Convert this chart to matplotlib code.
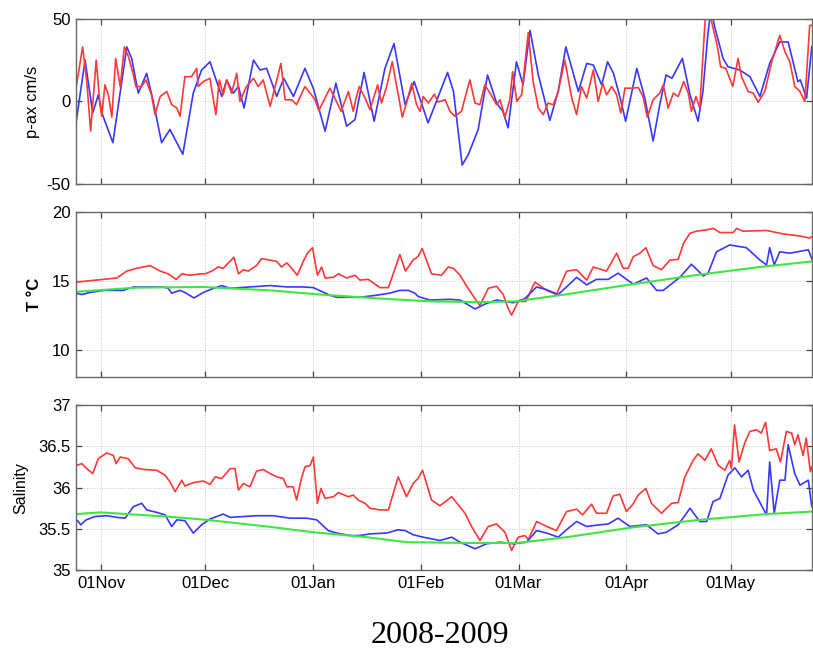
import datetime
import numpy as np
import matplotlib
matplotlib.use('Agg')
import matplotlib.pyplot as plt
import matplotlib.dates as mdates

# time axis: days after 01 Nov 2008
t0 = datetime.datetime(2008, 11, 1)

# along-axis velocity (cm/s)
vel_b_day = [-7.2, -4.6, -2.4, -0.8, 0.4, 3.4, 7.4, 8.8, 10.7, 13.1, 15.0, 17.4, 19.8, 23.5,
             26.5, 28.9, 31.3, 34.7, 36.1, 38.0, 39.5, 41.1, 43.8, 45.7, 47.6, 50.5, 52.5, 55.3,
             58.6, 61.0, 64.4, 67.5, 70.6, 73.0, 75.6, 78.5, 81.6, 84.2, 87.4, 90.0, 94.0, 99.6,
             101.3, 103.8, 105.6, 108.4, 111.1, 113.7, 115.5, 117.0, 119.4, 121.3, 123.3, 125.7,
             129.0, 131.4, 133.6, 137.2, 139.6, 141.5, 143.9, 145.6, 147.3, 149.1, 150.8, 154.0,
             156.3, 158.7, 160.6, 162.4, 164.1, 167.1, 169.3, 171.6, 173.0, 174.4, 175.3, 176.4,
             178.8, 180.2, 183.6, 186.5, 189.4, 192.2, 195.1, 197.5, 198.9, 200.3, 201.0, 202.8,
             204.3]
vel_b = [-13, 25, -7, 4, -8, -25, 33, 26, 5, 17, 0, -25, -17, -32,
         5, 19, 24, 3, 13, 5, 9, -4, 25, 19, 20, 3, 14, 3,
         20, 8, -18, 11, -15, -11, 17.5, -12, 20, 35, -2, 12, -13, 17.5,
         6, -38.5, -32, -17, 16, -1, -6, -16, 24, 10, 43, 16,
         -11.5, 6, 33, 6, 23, 22, 10, 24, 17, 3, -12, 20,
         2, -24, -2, 16, 14, 26, 4, -12, 6, 40, 56, 45,
         26, 21, 19, 15, 3, 23, 36, 36, 24, 12, 13, 2,
         33]

vel_r_day = [-7.2, -5.3, -4.1, -3.0, -1.4, -0.3, 0.2, 1.1, 2.1, 3.1, 4.2, 5.5, 6.7, 7.9, 9.3,
             10.0, 11.6, 12.9, 14.5, 15.5, 17.0, 18.9, 20.3, 21.8, 22.7, 24.1, 26.0, 27.5, 27.9,
             29.4, 31.3, 33.0, 34.0, 35.1, 36.1, 37.5, 39.0, 39.9, 41.8, 43.8, 45.2, 46.6, 48.6,
             51.7, 52.9, 54.8, 56.2, 58.6, 60.1, 61.5, 62.6, 65.8, 67.2, 69.0, 71.1, 72.5, 73.2,
             74.2, 75.9, 77.3, 79.5, 80.6, 82.1, 83.7, 84.9, 86.6, 87.8, 89.3, 90.7, 91.7, 92.6,
             94.1, 95.8, 96.9, 98.9, 100.3, 101.7, 103.6, 106.0, 107.5, 108.9, 110.3, 111.8,
             113.7, 114.7, 116.1, 117.5, 118.3, 119.5, 120.9, 122.8, 124.2, 125.7, 127.1, 128.5,
             130.0, 131.4, 133.3, 135.3, 136.7, 138.1, 139.6, 141.5, 142.9, 144.2, 145.3, 146.8,
             148.2, 149.4, 150.6, 152.5, 154.4, 155.8, 157.0, 158.7, 160.6, 161.6, 163.0, 164.5,
             165.9, 167.5, 168.8, 169.7, 171.0, 172.1, 173.6, 174.5, 176.1, 177.1, 178.1, 179.6,
             181.6, 183.1, 184.1, 186.0, 187.5, 188.9, 190.8, 192.8, 195.1, 196.6, 198.0, 199.4,
             200.9, 202.3, 203.7, 204.3]
vel_r = [8, 33, 12, -18, 25, -2, -9, 10, 4, -9.5, 26, 9, 33, 27, 16,
         9, 9, 13, 4, -8, 3, 6, -2, -4, -9, 15, 15, 20, 9,
         12, 14, -8, 13, 4, 13, 5, 17, 0, 9, 14, 9, 13, -3,
         23, 1, 1, -2, 9, 5, 1, -5.5, 8, 2, -6, 6, -6, 1,
         9, 2, -5, 10, -1, 9, 24, 10, -9.5, -1, 11, -2, -6, 3,
         -1, 4.4, -0.4, 1, -6, -9, -6, 13, -1, -2, 10, 5,
         -2, 1, -9.5, 1, 18, 0, 4, 41.6, 12, -4, -8, -1,
         -2, 6, 25, 2, -8, 9, 2, 19, 0, 11, 4, 9,
         4, -7, 8, 8, 8.4, 3, -9.5, 1, 5, 10, -4, 5,
         3, 12, 5, -6, 3, -4, 48, 57, 43, 34, 21, 20,
         9, 26, 15, 6, 5, -0.5, 6, 24, 40, 30, 24, 9,
         6, 0, 46, 46]

# temperature (deg C)
temp_r_day = [-7.2, -3.2, 0.7, 4.5, 7.4, 10.2, 14.1, 17.0, 19.3, 21.6, 23.2, 25.6, 28.4, 29.9,
              31.8, 33.7, 35.1, 36.6, 38.2, 39.5, 40.9, 42.3, 44.7, 46.1, 48.6, 50.5, 51.9, 53.4,
              54.8, 56.4, 58.1, 59.3, 60.8, 62.2, 63.4, 64.4, 66.8, 68.2, 70.6, 73.0, 74.4, 76.8,
              80.2, 82.6, 85.9, 87.5, 89.7, 91.1, 92.3, 95.0, 97.9, 99.8, 101.3, 103.2, 105.1,
              107.5, 108.9, 111.3, 113.7, 115.6, 117.0, 118.0, 119.9, 122.1, 124.7, 128.1, 130.9,
              133.8, 136.7, 139.6, 141.5, 145.3, 148.2, 150.1, 151.5, 153.0, 154.9, 156.6, 158.7,
              161.1, 163.5, 165.9, 167.4, 169.3, 171.2, 174.1, 176.0, 177.9, 181.7, 182.7, 184.6,
              191.3, 196.1, 200.9, 203.7, 204.3]
temp_r = [14.9, 15.0, 15.1, 15.2, 15.7, 15.9, 16.1, 15.7, 15.5, 15.1, 15.5, 15.4, 15.5, 15.5,
          15.7, 16.0, 15.9, 16.3, 16.7, 15.5, 15.8, 15.7, 16.1, 16.6, 16.5, 16.4, 16.0, 16.3,
          15.9, 15.4, 16.4, 17.0, 17.4, 15.4, 16.0, 15.2, 15.25, 15.5, 15.2, 15.4, 15.05, 15.1,
          14.5, 14.5, 16.9, 15.7, 16.5, 16.75, 17.35, 15.5, 15.4, 16.0, 15.9, 15.4, 14.6,
          13.7, 13.2, 14.45, 14.6, 14.0, 13.0, 12.5, 13.5, 13.5, 14.9, 14.3, 14.0,
          15.7, 15.8, 15.05, 16.0, 15.7, 17.0, 15.9, 15.9, 16.75, 17.0, 17.4, 16.1,
          15.8, 16.5, 16.55, 17.7, 18.45, 18.6, 18.7, 18.8, 18.5, 18.5, 18.8, 18.6,
          18.65, 18.4, 18.25, 18.1, 18.2]

temp_b_day = [-7.2, -5.5, -3.2, 0.7, 6.4, 9.3, 13.1, 17.9, 19.3, 20.3, 22.7, 24.1, 26.7, 29.4,
              31.8, 34.7, 37.1, 42.8, 48.6, 53.4, 58.1, 61.0, 65.8, 67.7, 74.4, 79.2, 83.0, 85.9,
              88.3, 90.2, 91.2, 94.5, 100.3, 103.2, 107.5, 110.3, 113.7, 118.5, 121.8, 125.2,
              128.1, 131.4, 133.8, 136.7, 139.6, 142.4, 145.8, 148.6, 153.0, 156.8, 159.7, 161.6,
              166.4, 169.7, 173.1, 174.5, 176.9, 180.7, 185.5, 189.4, 191.3, 192.2, 193.5, 195.1,
              198.0, 203.3, 204.3]
temp_b = [14.1, 14.0, 14.15, 14.3, 14.3, 14.55, 14.55, 14.55, 14.45, 14.1, 14.3, 14.15, 13.75, 14.15,
          14.4, 14.65, 14.45, 14.55, 14.65, 14.55, 14.55, 14.5, 13.95, 13.8, 13.8, 13.95, 14.1, 14.3,
          14.3, 14.1, 13.85, 13.6, 13.65, 13.6, 12.95, 13.3, 13.6, 13.4, 13.7, 14.55,
          14.35, 14.0, 14.55, 15.25, 14.7, 15.1, 15.1, 15.55, 14.75, 15.2, 14.3, 14.3,
          15.25, 16.2, 15.35, 15.55, 17.1, 17.6, 17.4, 16.5, 16.15, 17.4, 16.15, 17.1,
          17.0, 17.25, 16.6]

temp_g_day = [-7.2, 10.2, 29.4, 48.6, 62.9, 80.6, 95.0, 109.4, 119.0, 133.3, 151.5, 170.7,
              189.4, 204.3]
temp_g = [14.2, 14.5, 14.55, 14.3, 14.0, 13.7, 13.5, 13.45, 13.5, 14.0, 14.7, 15.4,
          16.0, 16.4]

# salinity
sal_r_day = [-7.0, -5.5, -4.1, -2.4, -0.8, 1.6, 3.5, 4.3, 5.5, 7.8, 9.8, 12.2, 16.0, 18.4, 19.8,
             21.3, 23.2, 24.1, 26.5, 29.4, 31.3, 32.8, 34.7, 37.1, 38.5, 39.5, 40.9, 42.8, 44.7,
             46.6, 48.6, 50.5, 52.4, 53.4, 55.2, 56.2, 57.6, 58.6, 60.1, 61.0, 62.2, 63.2, 64.4,
             66.8, 68.2, 71.1, 72.5, 73.9, 75.9, 77.3, 80.2, 82.6, 85.4, 87.8, 89.7, 91.1, 92.4,
             95.0, 97.4, 100.8, 102.7, 104.6, 106.5, 108.9, 111.3, 113.7, 116.1, 118.0, 119.9,
             121.8, 122.8, 125.2, 128.1, 130.9, 133.8, 136.7, 138.4, 141.0, 142.4, 145.3, 147.2,
             149.1, 151.0, 152.9, 154.4, 156.6, 158.2, 161.1, 164.0, 165.9, 167.8, 170.2, 171.6,
             173.6, 175.4, 177.4, 179.3, 180.7, 181.2, 182.1, 183.4, 185.1, 186.5, 188.4, 189.8,
             191.0, 192.2, 194.1, 195.3, 197.0, 198.5, 199.4, 200.3, 201.8, 202.7, 203.9, 204.3]
sal_r = [36.27, 36.29, 36.23, 36.17, 36.35, 36.42, 36.39, 36.29, 36.37, 36.35, 36.24, 36.22, 36.21,
         36.15, 36.07, 35.95, 36.09, 36.02, 36.06, 36.08, 36.04, 36.13, 36.11, 36.23, 36.23, 35.97,
         36.05, 36.01, 36.2, 36.22, 36.17, 36.13, 36.11, 36.01, 36.01, 35.85, 36.11, 36.25, 36.27,
         36.37, 35.81, 35.99, 35.87, 35.89, 35.94, 35.89, 35.91, 35.85, 35.81, 35.75, 35.73, 35.73,
         36.13, 35.89, 36.05, 36.11, 36.21, 35.85, 35.78, 35.89, 35.79, 35.69, 35.53, 35.36, 35.53,
         35.56, 35.46, 35.24, 35.40, 35.42, 35.37, 35.59, 35.53, 35.48, 35.71, 35.74, 35.67, 35.8,
         35.69, 35.69, 35.9, 35.92, 35.71, 35.8, 35.91, 35.99, 35.81, 35.69, 35.81, 35.82, 36.13,
         36.33, 36.41, 36.33, 36.47, 36.27, 36.21, 36.33, 36.23, 36.76, 36.31, 36.55, 36.68, 36.7,
         36.66, 36.79, 36.45, 36.47, 36.31, 36.68, 36.66, 36.52, 36.64, 36.39, 36.6, 36.19, 36.25]

sal_b_day = [-6.8, -5.8, -4.3, -1.7, 1.6, 4.5, 6.9, 9.3, 11.7, 13.1, 16.0, 18.4, 20.3, 21.8, 24.1,
             26.5, 28.9, 31.3, 35.1, 37.1, 40.9, 44.7, 49.5, 54.3, 59.1, 62.0, 65.3, 67.7, 71.6,
             74.4, 77.3, 82.1, 85.4, 87.4, 89.7, 92.6, 97.4, 100.8, 103.2, 107.5, 110.8, 114.7,
             118.5, 122.3, 125.2, 128.1, 131.4, 133.8, 136.7, 139.6, 143.4, 145.8, 148.6, 152.0,
             156.8, 160.1, 162.5, 165.9, 169.3, 172.1, 174.1, 175.9, 177.9, 180.2, 182.2, 184.1,
             186.0, 187.5, 191.3, 192.2, 193.5, 195.1, 196.6, 197.5, 199.4, 200.9, 203.3, 204.3]
sal_b = [35.6, 35.55, 35.61, 35.65, 35.66, 35.64, 35.63, 35.77, 35.81, 35.73, 35.7, 35.67, 35.53,
         35.61, 35.6, 35.45, 35.55, 35.62, 35.68, 35.64, 35.65, 35.66, 35.66, 35.63, 35.63, 35.61,
         35.48, 35.45, 35.42, 35.42, 35.44, 35.45, 35.49, 35.48, 35.43, 35.40, 35.36, 35.4, 35.34,
         35.26, 35.32, 35.34, 35.32, 35.34, 35.48, 35.45, 35.4, 35.49, 35.59, 35.53, 35.55, 35.56,
         35.63, 35.53, 35.55, 35.44, 35.46, 35.55, 35.75, 35.59, 35.59, 35.83, 35.87, 36.15, 36.24,
         36.13, 36.21, 35.97, 35.67, 36.31, 35.69, 36.09, 36.09, 36.52, 36.17, 36.03, 36.09, 35.77]

sal_g_day = [-7.0, -0.3, 18.9, 30.4, 47.6, 61.0, 76.4, 87.8, 105.0, 119.5, 133.8, 153.0, 172.0,
             191.3, 204.5]
sal_g = [35.68, 35.7, 35.65, 35.61, 35.53, 35.46, 35.4, 35.34, 35.33, 35.33, 35.4, 35.52, 35.61,
         35.68, 35.71]

month_ticks = [datetime.datetime(2008, 11, 1), datetime.datetime(2008, 12, 1),
               datetime.datetime(2009, 1, 1), datetime.datetime(2009, 2, 1),
               datetime.datetime(2009, 3, 1), datetime.datetime(2009, 4, 1),
               datetime.datetime(2009, 5, 1)]


def to_dates(days):
    return mdates.date2num(t0) + np.asarray(days, dtype=float)


plt.rcParams['font.family'] = ['Liberation Sans', 'DejaVu Sans']
plt.rcParams['axes.unicode_minus'] = False
plt.rcParams['lines.solid_joinstyle'] = 'round'

RED = (1.0, 0.22, 0.22)
BLUE = (0.22, 0.22, 1.0)
GREEN = (0.25, 0.9, 0.25)

fig = plt.figure(figsize=(8.13, 6.48), dpi=100)
rects = [[0.0935, 0.716, 0.905, 0.255],
         [0.0935, 0.418, 0.905, 0.255],
         [0.0935, 0.120, 0.905, 0.255]]
axs = [fig.add_axes(r) for r in rects]

axs[0].plot(to_dates(vel_b_day), vel_b, color=BLUE, lw=1.2)
axs[0].plot(to_dates(vel_r_day), vel_r, color=RED, lw=1.2)
axs[0].set_ylim(-50, 50)
axs[0].set_yticks([-50, 0, 50])
axs[0].set_ylabel('p-ax cm/s', fontsize=12)
axs[0].yaxis.set_label_coords(-0.049, 0.5)

axs[1].plot(to_dates(temp_r_day), temp_r, color=RED, lw=1.2)
axs[1].plot(to_dates(temp_b_day), temp_b, color=BLUE, lw=1.2)
axs[1].plot(to_dates(temp_g_day), temp_g, color=GREEN, lw=1.5)
axs[1].set_ylim(8, 20)
axs[1].set_yticks([10, 15, 20])
axs[1].set_ylabel('T \u00b0C', fontsize=12, fontweight='bold')
axs[1].yaxis.set_label_coords(-0.046, 0.5)

axs[2].plot(to_dates(sal_r_day), sal_r, color=RED, lw=1.2)
axs[2].plot(to_dates(sal_b_day), sal_b, color=BLUE, lw=1.2)
axs[2].plot(to_dates(sal_g_day), sal_g, color=GREEN, lw=1.5)
axs[2].set_ylim(35, 37)
axs[2].set_yticks([35, 35.5, 36, 36.5, 37])
axs[2].set_yticklabels(['35', '35.5', '36', '36.5', '37'])
axs[2].set_ylabel('Salinity', fontsize=11.5)
axs[2].yaxis.set_label_coords(-0.065, 0.5)

xmin = mdates.date2num(t0) - 7.2
xmax = mdates.date2num(t0) + 204.3
for i, ax in enumerate(axs):
    ax.set_xlim(xmin, xmax)
    ax.set_xticks(mdates.date2num(month_ticks))
    ax.xaxis.set_major_formatter(mdates.DateFormatter('%d%b'))
    if i < 2:
        ax.tick_params(labelbottom=False)
    ax.tick_params(direction='in', top=True, right=True, length=4.5, width=0.9,
                   color='#444444', labelsize=12, pad=4)
    ax.grid(True, linestyle=':', color='#c8c8c8', linewidth=0.7)
    for s in ax.spines.values():
        s.set_color('#666666')
        s.set_linewidth(1.0)

fig.text(0.541, 0.02, '2008-2009', fontsize=23, family='Liberation Serif',
         ha='center', va='center')

fig.savefig('out.png', dpi=100)
